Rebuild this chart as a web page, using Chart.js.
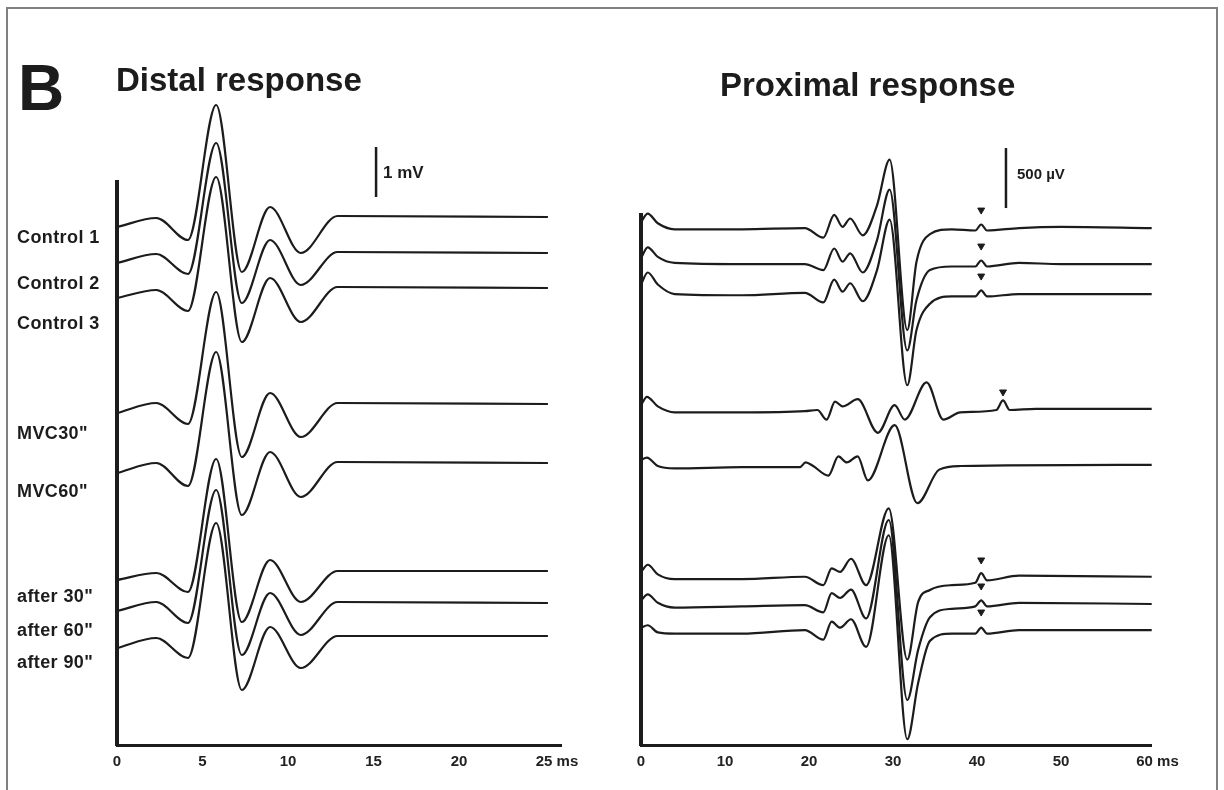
<!DOCTYPE html>
<html>
<head>
<meta charset="utf-8">
<script src="https://cdn.jsdelivr.net/npm/chart.js@4.4.1/dist/chart.umd.min.js"></script>
<style>
    body {
        margin: 0;
        width: 1224px;
        height: 790px;
        position: relative;
        overflow: hidden;
        background: #fff;
        font-family: "Liberation Sans", Arial, sans-serif;
        color: #1c1c1c;
    }
    .frame {
        position: absolute;
        left: 6px;
        top: 7px;
        width: 1208px;
        height: 800px;
        border: 2px solid #808080;
        border-bottom: none;
    }
    canvas { position: absolute; top: 0; }
    #distalChart { left: 0; }
    #proximalChart { left: 600px; }
    .txt {
        position: absolute;
        font-weight: bold;
        white-space: nowrap;
        transform: translateY(-50%);
    }
    .trace-label { font-size: 18px; letter-spacing: 0.4px; }
</style>
</head>
<body>
<div class="frame"></div>
<canvas id="distalChart" width="600" height="790"></canvas>
<canvas id="proximalChart" width="624" height="790"></canvas>

<div class="txt" style="left:18px; top:88px; font-size:64px;">B</div>
<div class="txt" style="left:116px; top:80px; font-size:33px;">Distal response</div>
<div class="txt" style="left:720px; top:85px; font-size:33px;">Proximal response</div>
<div class="txt" style="left:383px; top:173px; font-size:17px;">1 mV</div>
<div class="txt" style="left:1017px; top:173px; font-size:15px;">500 µV</div>
<div id="labels"></div>

<script>
// ---- DISTAL RESPONSE (mV, traces stacked on an offset) ----
const distalTime = [0, 2.3, 4.15, 5.8, 7.3, 8.95, 10.75, 12.9, 25.2];
const traceNames = ['Control 1', 'Control 2', 'Control 3', 'MVC30"', 'MVC60"', 'after 30"', 'after 60"', 'after 90"'];
const distalOffset = [10.02, 9.3, 8.6, 6.28, 5.1, 2.94, 2.3, 1.64];
const distalControl1 = [-0.2, -0.02, -0.46, 2.24, -1.1, 0.2, -0.72, 0.02, 0];
const distalControl2 = [-0.2, -0.02, -0.42, 2.2, -1.0, 0.26, -0.64, 0.02, 0];
const distalControl3 = [-0.2, -0.04, -0.46, 2.22, -1.08, 0.2, -0.68, 0.02, 0];
const distalMvc30 = [-0.18, 0.02, -0.4, 2.24, -1.06, 0.22, -0.66, 0.02, 0];
const distalMvc60 = [-0.2, 0, -0.46, 2.22, -1.04, 0.22, -0.68, 0.02, 0];
const distalAfter30 = [-0.18, -0.04, -0.42, 2.24, -1.02, 0.22, -0.62, 0, 0];
const distalAfter60 = [-0.16, 0.02, -0.4, 2.26, -1.04, 0.2, -0.64, 0.02, 0];
const distalAfter90 = [-0.24, -0.04, -0.44, 2.26, -1.08, 0.18, -0.64, 0, 0];
const distalTicks = [0, 5, 10, 15, 20, 25];
const distalTickLabels = ['0', '5', '10', '15', '20', '      25 ms'];
const distalScaleBar = { t: 15.15, from: 10.42, size: 1 };   // 1 mV

// ---- PROXIMAL RESPONSE (µV) ----
const proxOffset = [4083, 3783, 3533, 2567, 2100, 1167, 950, 733];
const proxControlTime = [0, 0.8, 2, 4, 12, 19.5, 21.7, 23.0, 24.0, 24.9, 26.4, 28.1, 29.6, 31.7, 32.8, 34.4, 37, 39.8, 40.5, 41.2, 45, 50, 60.8];
const proxControl1 = [50, 120, 40, -10, -10, 0, -80, 110, 10, 80, -60, 190, 570, -850, -280, -50, -10, -20, 30, -20, 0, 10, 0];
const proxControl2 = [50, 140, 60, 10, 0, 0, -50, 130, 20, 90, -70, 200, 620, -720, -300, -50, -20, -20, 30, -20, 10, 0, 0];
const proxControl3 = [80, 180, 80, 0, -10, 10, -70, 120, 20, 90, -60, 200, 620, -760, -300, -80, -20, -20, 30, -20, 0, 0, 0];
const proxMvc30Time = [0, 0.7, 2, 4, 12, 19.5, 21.0, 22.1, 23.1, 24.0, 25.8, 28.2, 30.2, 31.4, 34.0, 36.0, 38, 42.3, 43.1, 43.9, 47, 60.8];
const proxMvc30 = [40, 110, 30, -20, -20, -10, 0, -80, 70, 30, 90, -190, 40, -80, 230, -80, -20, 0, 80, 0, 10, 10];
const proxMvc60Time = [0, 0.7, 2, 4, 12, 18.9, 19.6, 20.5, 22.3, 23.5, 24.5, 25.8, 27.0, 30.2, 32.9, 35.5, 38, 60.8];
const proxMvc60 = [50, 70, 0, -20, -10, -10, 30, 0, -80, 80, 30, 80, -120, 340, -310, -30, 0, 10];
const proxAfterTime = [0, 0.8, 2, 4, 12, 19.5, 21.7, 22.7, 23.7, 25.0, 26.8, 29.5, 31.7, 33, 34.4, 37, 39.8, 40.5, 41.2, 45, 60.8];
const proxAfter30 = [50, 110, 30, -10, -10, 10, -60, 80, 50, 160, -60, 580, -680, -200, -100, -60, -40, 40, -20, 20, 10];
const proxAfter60 = [30, 80, 10, -30, -20, -10, -70, 90, 50, 120, -120, 700, -800, -380, -110, -40, -20, 30, -20, 10, 0];
const proxAfter90 = [20, 40, -20, -30, -30, 0, -80, 70, 20, 90, -140, 790, -910, -440, -90, -30, -30, 20, -30, 0, 0];
const arrowTime = [40.5, 40.5, 40.5, 43.1, 40.5, 40.5, 40.5];
const arrowTrace = [0, 1, 2, 3, 5, 6, 7];
const proxTicks = [0, 10, 20, 30, 40, 50, 60];
const proxTickLabels = ['0', '10', '20', '30', '40', '50', '      60 ms'];
const proxScaleBar = { t: 43.45, from: 4250, size: 500 };   // 500 µV

const ink = '#1c1c1c';
const tickFont = { family: '"Liberation Sans", Arial, sans-serif', size: 15, weight: 'bold' };

function trace(times, values, offset) {
    return {
        data: times.map((t, i) => ({ x: t, y: offset + values[i] })),
        borderColor: ink,
        borderWidth: 2.2,
        pointRadius: 0,
        cubicInterpolationMode: 'monotone',
        clip: false
    };
}

function bar(sb) {
    return {
        data: [{ x: sb.t, y: sb.from }, { x: sb.t, y: sb.from + sb.size }],
        borderColor: ink,
        borderWidth: 2.5,
        pointRadius: 0,
        clip: false
    };
}

function chartOptions(xMax, yMin, yMax, ticks, tickLabels, pad) {
    return {
        responsive: false,
        animation: false,
        devicePixelRatio: 1,
        layout: { padding: pad },
        plugins: { legend: { display: false }, tooltip: { enabled: false } },
        scales: {
            x: {
                type: 'linear',
                min: 0,
                max: xMax,
                afterFit: s => { s.height = 45; },
                afterBuildTicks: axis => { axis.ticks = ticks.map(v => ({ value: v })); },
                ticks: {
                    callback: (v, i) => tickLabels[i],
                    font: tickFont,
                    color: '#222',
                    padding: 0,
                    maxRotation: 0,
                    autoSkip: false
                },
                grid: { display: false },
                border: { width: 3, color: ink }
            },
            y: {
                min: yMin,
                max: yMax,
                afterFit: s => { s.width = 0; },
                ticks: { display: false },
                grid: { display: false },
                border: { width: 4, color: ink }
            }
        }
    };
}

// distal chart
const distalSets = [distalControl1, distalControl2, distalControl3, distalMvc30,
    distalMvc60, distalAfter30, distalAfter60, distalAfter90]
    .map((vals, i) => trace(distalTime, vals, distalOffset[i]));
distalSets.push(bar(distalScaleBar));

new Chart(document.getElementById('distalChart').getContext('2d'), {
    type: 'line',
    data: { datasets: distalSets },
    options: chartOptions(26.0, -0.54, 10.72, distalTicks, distalTickLabels,
        { left: 117, right: 38.4, top: 182, bottom: 0 })
});

// proximal chart
const proxSets = [
    trace(proxControlTime, proxControl1, proxOffset[0]),
    trace(proxControlTime, proxControl2, proxOffset[1]),
    trace(proxControlTime, proxControl3, proxOffset[2]),
    trace(proxMvc30Time, proxMvc30, proxOffset[3]),
    trace(proxMvc60Time, proxMvc60, proxOffset[4]),
    trace(proxAfterTime, proxAfter30, proxOffset[5]),
    trace(proxAfterTime, proxAfter60, proxOffset[6]),
    trace(proxAfterTime, proxAfter90, proxOffset[7])
];
proxSets.push(bar(proxScaleBar));
proxSets.push({
    data: arrowTime.map((t, i) => ({ x: t, y: proxOffset[arrowTrace[i]] + 150 })),
    showLine: false,
    pointStyle: 'triangle',
    rotation: 180,
    pointRadius: 4,
    backgroundColor: ink,
    borderColor: ink,
    borderWidth: 1,
    clip: false
});

new Chart(document.getElementById('proximalChart').getContext('2d'), {
    type: 'line',
    data: { datasets: proxSets },
    options: chartOptions(60.8, -225, 4192, proxTicks, proxTickLabels,
        { left: 41, right: 72.3, top: 215, bottom: 0 })
});

// trace names on the left
const labelY = [237, 283, 323, 433, 491, 596, 630, 662];
const labelBox = document.getElementById('labels');
traceNames.forEach((name, i) => {
    const el = document.createElement('div');
    el.className = 'txt trace-label';
    el.style.left = '17px';
    el.style.top = labelY[i] + 'px';
    el.textContent = name;
    labelBox.appendChild(el);
});
</script>
</body>
</html>
